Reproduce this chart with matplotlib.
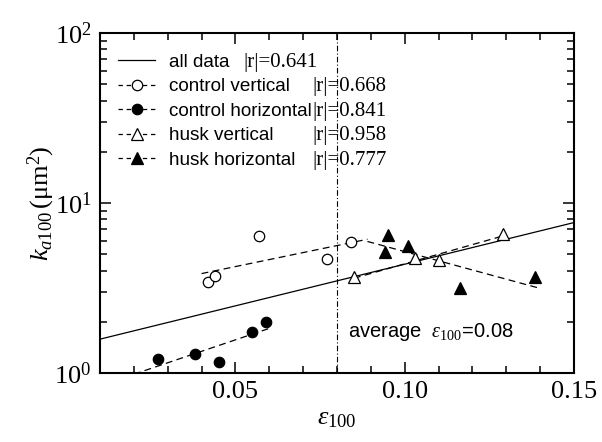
import numpy as np
import matplotlib
matplotlib.use("Agg")
import matplotlib.pyplot as plt
from matplotlib.ticker import MultipleLocator, LogLocator, LogFormatterMathtext, FormatStrFormatter, NullFormatter

plt.rcParams['mathtext.fontset'] = 'custom'
plt.rcParams['mathtext.rm'] = 'Liberation Serif'
plt.rcParams['mathtext.it'] = 'Liberation Serif:italic'
plt.rcParams['mathtext.bf'] = 'Liberation Serif:bold'
plt.rcParams['font.family'] = ['Liberation Serif', 'DejaVu Serif']

# ---- data ----
cv_x = [0.042, 0.044, 0.057, 0.077, 0.084]
cv_y = [3.42, 3.74, 6.40, 4.68, 5.88]
ch_x = [0.027, 0.038, 0.045, 0.055, 0.059]
ch_y = [1.21, 1.29, 1.16, 1.75, 1.99]
hv_x = [0.085, 0.103, 0.110, 0.129]
hv_y = [3.65, 4.75, 4.60, 6.60]
hh_x = [0.0942, 0.0951, 0.101, 0.1163, 0.1385]
hh_y = [5.13, 6.45, 5.58, 3.15, 3.65]

labels = ["all data", "control vertical", "control horizontal", "husk vertical", "husk horizontal"]
r_values = [0.641, 0.668, 0.841, 0.958, 0.777]

# fit ranges (x) for regression lines
all_range = [0.01, 0.15]
cv_range = [0.040, 0.089]
ch_range = [0.020, 0.060]
hv_range = [0.085, 0.130]
hh_range = [0.089, 0.140]

avg_eps = 0.08

# ---- figure ----
fig = plt.figure(figsize=(6.02, 4.42), dpi=100)
ax = fig.add_axes([100/602, 69/442, 474/602, 340/442])

def fit_line(xs, ys, rng):
    b, a = np.polyfit(np.asarray(xs), np.log10(np.asarray(ys)), 1)
    xx = np.linspace(rng[0], rng[1], 50)
    return xx, 10 ** (a + b * xx)

all_x = cv_x + ch_x + hv_x + hh_x
all_y = cv_y + ch_y + hv_y + hh_y

dash = (0, (5.5, 3.5))
lw = 0.9
ms_c = 7.5
ms_t = 8.5

xx, yy = fit_line(all_x, all_y, all_range)
h_all, = ax.plot(xx, yy, color='black', lw=lw)

series = [
    (cv_x, cv_y, cv_range, 'o', 'white', ms_c),
    (ch_x, ch_y, ch_range, 'o', 'black', ms_c),
    (hv_x, hv_y, hv_range, '^', 'white', ms_t),
    (hh_x, hh_y, hh_range, '^', 'black', ms_t),
]
handles = [h_all]
for xs, ys, rng, mk, fc, ms in series:
    fx, fy = fit_line(xs, ys, rng)
    ax.plot(fx, fy, color='black', lw=lw, linestyle=dash, zorder=2)
    ax.plot(xs, ys, linestyle='none', marker=mk, ms=ms, mfc=fc, mec='black', mew=0.9, zorder=3)
    handles.append(matplotlib.lines.Line2D([], [], color='black', lw=lw, linestyle=(0, (3.5, 3)),
                                           marker=mk, ms=ms, mfc=fc, mec='black', mew=0.9))

ax.axvline(avg_eps, color='black', lw=0.8, linestyle=(0, (5, 2, 1, 2)), zorder=1)

ax.set_xlim(0.01, 0.15)
ax.set_yscale('log')
ax.set_ylim(1, 100)

ax.xaxis.set_major_locator(MultipleLocator(0.05))
ax.xaxis.set_minor_locator(MultipleLocator(0.01))
ax.xaxis.set_major_formatter(FormatStrFormatter('%.2f'))
ax.yaxis.set_major_locator(LogLocator(base=10))
ax.yaxis.set_minor_locator(LogLocator(base=10, subs=np.arange(2, 10)))
ax.yaxis.set_major_formatter(LogFormatterMathtext())
ax.yaxis.set_minor_formatter(NullFormatter())

ax.tick_params(which='both', direction='in', top=True, right=True, width=1.1)
ax.tick_params(which='major', length=8, labelsize=19, pad=6)
ax.tick_params(which='minor', length=5)
for s in ax.spines.values():
    s.set_linewidth(1.5)

ax.set_xlabel(r'$\varepsilon_{\mathrm{100}}$', fontsize=19, labelpad=3)
ax.set_ylabel(r'$k_{a\mathrm{100}}\,(\mathrm{μm}^{2})$', fontsize=19, labelpad=-2)

leg = ax.legend(handles, labels, loc='upper left', bbox_to_anchor=(0.039, 0.94),
                frameon=False, borderaxespad=0, borderpad=0,
                handlelength=1.95, handletextpad=0.72, labelspacing=0.39,
                prop={'family': 'Liberation Sans', 'size': 13.6})

fig.canvas.draw()
renderer = fig.canvas.get_renderer()
inv = ax.transAxes.inverted()
bbs = [t.get_window_extent(renderer) for t in leg.get_texts()]
col_x = max(bb.x1 for bb in bbs[1:]) + 1
for i, (bb, r) in enumerate(zip(bbs, r_values)):
    x0 = bb.x1 + 14 if i == 0 else col_x
    yc = (bb.y0 + bb.y1) / 2
    ax_x, ax_y = inv.transform((x0, yc))
    ax.text(ax_x, ax_y, f'|r|={r:.3f}', transform=ax.transAxes, ha='left', va='center',
            fontsize=15, family='Liberation Serif')

ax.text(avg_eps + 0.0033, 1.74, r'average  $\varepsilon_{\mathrm{100}}$=' + f'{avg_eps:.2f}',
        fontsize=14.5, family='Liberation Sans', ha='left', va='center')

fig.savefig('out.png', dpi=100)
